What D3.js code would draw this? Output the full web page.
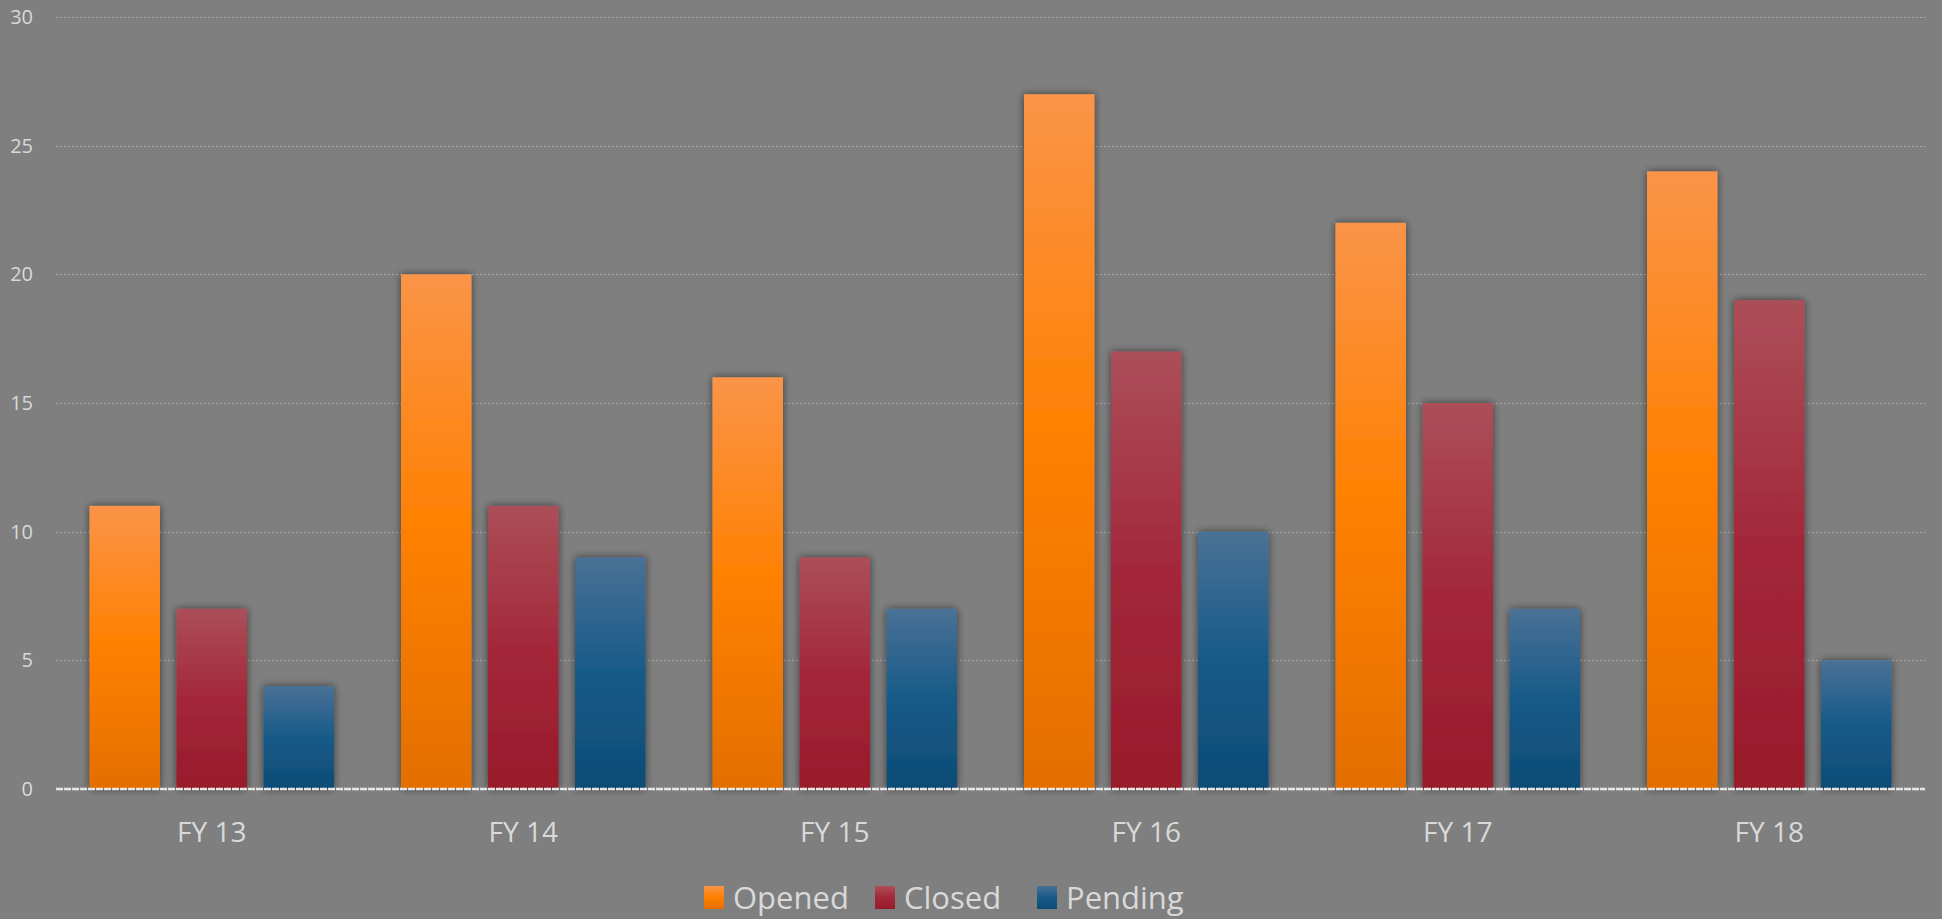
<!DOCTYPE html>
<html>
<head>
<meta charset="utf-8">
<script src="https://cdn.jsdelivr.net/npm/d3@7/dist/d3.min.js"></script>
<style>
  html, body { margin: 0; padding: 0; background: #7f7f7f; overflow: hidden; }
  svg { display: block; }
  text { font-family: "Open Sans", "Liberation Sans", sans-serif; fill: #d9d9d9; }
</style>
</head>
<body>
<svg id="chart" width="1942" height="919"></svg>
<script>
const categories = ["FY 13", "FY 14", "FY 15", "FY 16", "FY 17", "FY 18"];
const seriesNames = ["Opened", "Closed", "Pending"];
const opened  = [11, 20, 16, 27, 22, 24];
const closed  = [7, 11, 9, 17, 15, 19];
const pending = [4, 9, 7, 10, 7, 5];
const yTicks = [0, 5, 10, 15, 20, 25, 30];

const seriesValues = [opened, closed, pending];
const gradients = {
  Opened:  ["#fa9448", "#ff8000", "#e36e00"],
  Closed:  ["#ab4f58", "#a3273a", "#981a2a"],
  Pending: ["#4a7196", "#175a88", "#0e4c76"]
};

const svg = d3.select("#chart");
const plot = { left: 56, right: 1925, top: 17, bottom: 789 };

const defs = svg.append("defs");
seriesNames.forEach((s, i) => {
  const g = defs.append("linearGradient")
    .attr("id", "grad" + i).attr("x1", 0).attr("y1", 0).attr("x2", 0).attr("y2", 1);
  g.append("stop").attr("offset", "0%").attr("stop-color", gradients[s][0]);
  g.append("stop").attr("offset", "50%").attr("stop-color", gradients[s][1]);
  g.append("stop").attr("offset", "100%").attr("stop-color", gradients[s][2]);
});
const f = defs.append("filter").attr("id", "shadow")
  .attr("x", "-30%").attr("y", "-10%").attr("width", "160%").attr("height", "120%");
f.append("feGaussianBlur").attr("in", "SourceAlpha").attr("stdDeviation", 4).attr("result", "blur");
f.append("feOffset").attr("in", "blur").attr("dx", 0).attr("dy", 0).attr("result", "off");
f.append("feComponentTransfer").attr("in", "off").attr("result", "sh")
  .append("feFuncA").attr("type", "linear").attr("slope", 0.55);
const fm = f.append("feMerge");
fm.append("feMergeNode").attr("in", "sh");
fm.append("feMergeNode").attr("in", "SourceGraphic");

const x0 = d3.scaleBand().domain(categories).range([plot.left, plot.right]).paddingInner(0).paddingOuter(0);
const x1 = d3.scaleBand().domain(seriesNames).range([0, x0.bandwidth()]).paddingInner(0.19).paddingOuter(0.385);
const y = d3.scaleLinear().domain([0, 30]).range([plot.bottom, plot.top]);

// y axis labels
const yAxis = d3.axisLeft(y).tickValues(yTicks).tickSize(0).tickPadding(23).tickFormat(d3.format("d"));
const yg = svg.append("g").attr("transform", `translate(${plot.left},0)`).call(yAxis);
yg.select(".domain").remove();
yg.selectAll(".tick text").attr("font-size", 20).style("fill", "#d9d9d9")
  .attr("font-family", "'Open Sans', sans-serif");

// gridlines
svg.append("g").selectAll("line").data(yTicks.filter(d => d > 0)).join("line")
  .attr("x1", plot.left).attr("x2", plot.right)
  .attr("y1", d => Math.round(y(d)) + 0.5).attr("y2", d => Math.round(y(d)) + 0.5)
  .attr("stroke", "#acacac").attr("stroke-width", 1).attr("stroke-dasharray", "2,2");

// bars
const groups = svg.append("g").selectAll("g").data(categories).join("g")
  .attr("transform", d => `translate(${x0(d)},0)`);
groups.selectAll("rect")
  .data((c, ci) => seriesNames.map((s, si) => ({ s, si, v: seriesValues[si][ci] })))
  .join("rect")
  .attr("x", d => x1(d.s))
  .attr("width", x1.bandwidth())
  .attr("y", d => y(d.v))
  .attr("height", d => y(0) - y(d.v))
  .attr("fill", d => `url(#grad${d.si})`)
  .attr("filter", "url(#shadow)");

// zero axis line
svg.append("line")
  .attr("x1", plot.left).attr("x2", plot.right)
  .attr("y1", y(0)).attr("y2", y(0))
  .attr("stroke", "#e6e6e6").attr("stroke-width", 2.5).attr("stroke-dasharray", "7,1");

// x axis labels
const xAxis = d3.axisBottom(x0).tickSize(0).tickPadding(33);
const xg = svg.append("g").attr("transform", `translate(0,${plot.bottom})`).call(xAxis);
xg.select(".domain").remove();
xg.selectAll(".tick text").attr("font-size", 28).style("fill", "#d9d9d9")
  .attr("font-family", "'Open Sans', sans-serif");

// legend
const legendX = [704, 875, 1037];
const leg = svg.append("g").selectAll("g").data(seriesNames).join("g")
  .attr("transform", (d, i) => `translate(${legendX[i]},886)`);
leg.append("rect").attr("width", 20).attr("height", 23).attr("fill", (d, i) => `url(#grad${i})`);
leg.append("text").attr("x", 29).attr("y", 23).attr("font-size", 31).text(d => d);
</script>
</body>
</html>
